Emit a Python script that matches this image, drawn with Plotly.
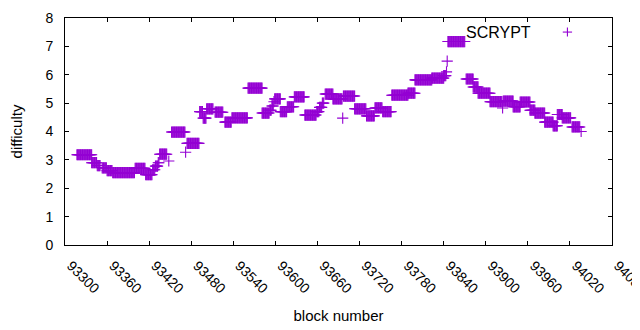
import plotly.graph_objects as go

# Difficulty plateaus: first block, last block, difficulty (one point per block)
run_start = [93317, 93338, 93346, 93353, 93360, 93368, 93400, 93415, 93425, 93429, 93433, 93435, 93448,
             93452, 93472, 93474, 93492, 93497, 93502, 93514, 93528, 93538, 93561, 93581, 93592, 93595,
             93598, 93599, 93607, 93617, 93627, 93642, 93659, 93663, 93667, 93671, 93682, 93696, 93697,
             93713, 93730, 93742, 93753, 93766, 93789, 93799, 93823, 93840, 93844, 93845, 93846, 93872,
             93882, 93889, 93906, 93924, 93925, 93939, 93949, 93963, 93970, 93984, 93996, 94002, 94009,
             94023, 94036]
run_end = [93338, 93345, 93350, 93359, 93367, 93399, 93414, 93424, 93428, 93432, 93434, 93445, 93448,
           93471, 93472, 93491, 93496, 93501, 93511, 93525, 93537, 93560, 93581, 93591, 93594, 93597,
           93598, 93607, 93616, 93626, 93641, 93658, 93662, 93666, 93669, 93682, 93695, 93696, 93713,
           93729, 93741, 93752, 93765, 93789, 93799, 93823, 93840, 93843, 93844, 93845, 93870, 93882,
           93889, 93906, 93923, 93924, 93939, 93949, 93963, 93970, 93984, 93996, 94002, 94009, 94021,
           94034, 94036]
run_diff = [3.18, 2.90, 2.80, 2.72, 2.62, 2.55, 2.70, 2.48, 2.65, 2.78, 2.90, 3.20, 2.96,
            3.98, 3.27, 3.58, 4.70, 4.47, 4.80, 4.68, 4.33, 4.48, 5.53, 4.65, 4.75, 4.90,
            5.05, 5.15, 4.70, 4.87, 5.22, 4.58, 4.70, 4.85, 5.00, 5.32, 5.15, 4.47, 5.25,
            4.80, 4.55, 4.83, 4.70, 5.28, 5.35, 5.82, 5.88, 5.97, 6.10, 6.48, 7.17, 5.85,
            5.57, 5.35, 5.05, 4.83, 5.07, 4.87, 5.04, 4.75, 4.65, 4.33, 4.20, 4.60, 4.48,
            4.16, 4.00]

x_ticks = [93300 + 60 * i for i in range(14)]
y_ticks = list(range(0, 9))

blocks, diffs = [], []
for s, e, d in zip(run_start, run_end, run_diff):
    for b in range(s, e + 1):
        blocks.append(b)
        diffs.append(d)

color = "#9400D3"
font = "Liberation Sans, Arial, sans-serif"

fig = go.Figure()
fig.add_trace(go.Scatter(
    x=blocks, y=diffs, mode="markers", name="SCRYPT", showlegend=False, cliponaxis=False,
    marker=dict(symbol="cross-thin", size=8, color=color,
                line=dict(color=color, width=1.1)),
))

axis_common = dict(showline=True, linecolor="black", linewidth=1, mirror="allticks",
                   ticks="inside", ticklen=4, tickcolor="black", showgrid=False,
                   zeroline=False, automargin=False,
                   tickfont=dict(family=font, size=14, color="black"))

fig.update_xaxes(range=[93300, 94080], tickvals=x_ticks, ticktext=[str(v) for v in x_ticks],
                 tickangle=45, ticklabeloverflow="allow", ticklabelstandoff=6, ticklabelshift=6,
                 title=dict(text="block number", font=dict(family=font, size=15, color="black"),
                            standoff=14),
                 **axis_common)
fig.update_yaxes(range=[0, 8], tickvals=y_ticks, ticklabelstandoff=8,
                 title=dict(text="difficulty", font=dict(family=font, size=15, color="black"), standoff=23),
                 **axis_common)

# legend (gnuplot style: text then sample)
fig.add_annotation(x=0.856, y=0.938, xref="paper", yref="paper", text="SCRYPT", showarrow=False,
                   xanchor="right", yanchor="middle", font=dict(family=font, size=16, color="black"))
fig.add_shape(type="line", xref="paper", yref="paper", x0=0.910, x1=0.927, y0=0.938, y1=0.938,
              line=dict(color=color, width=1.1))
fig.add_shape(type="line", xref="paper", yref="paper", x0=0.9185, x1=0.9185, y0=0.918, y1=0.958,
              line=dict(color=color, width=1.1))

fig.update_layout(width=640, height=330, margin=dict(l=57, r=36, t=10, b=93),
                  plot_bgcolor="white", paper_bgcolor="white", showlegend=False)

fig.write_html("out.html")
